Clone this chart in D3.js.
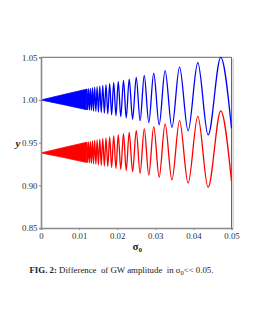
<!DOCTYPE html>
<html>
<head>
<meta charset="utf-8">
<script src="https://cdnjs.cloudflare.com/ajax/libs/d3/7.8.5/d3.min.js"></script>
<style>
  body { margin: 0; background: #fff; }
  svg { display: block; font-family: "Liberation Serif", "DejaVu Serif", serif; }
  .tick text { fill: #333; }
</style>
</head>
<body>
<div id="chart"></div>
<script>
// ticks
var xTicks = [0, 0.01, 0.02, 0.03, 0.04, 0.05];
var yTicks = [0.85, 0.90, 0.95, 1.00, 1.05];

// dense part near sigma = 0, drawn as a filled wedge (upper / lower envelope)
var envSigma = [0, 0.006, 0.012];
var blueUpper = [1.000, 1.0064, 1.0127];
var blueLower = [1.000, 0.9944, 0.9886];
var redUpper = [0.938, 0.9443, 0.9505];
var redLower = [0.938, 0.9325, 0.9268];

// resolved oscillation: alternating maxima / minima
var sigma = [0.01199, 0.01222, 0.01245, 0.01270, 0.01295, 0.01322, 0.01350, 0.01378,
  0.01408, 0.01440, 0.01473, 0.01507, 0.01543, 0.01581, 0.01621, 0.01663, 0.01706,
  0.01753, 0.01802, 0.01854, 0.01908, 0.01967, 0.02028, 0.02094, 0.02165, 0.02237,
  0.02315, 0.02404, 0.02500, 0.02601, 0.02710, 0.02829, 0.02959, 0.03101, 0.03257,
  0.03436, 0.03636, 0.03861, 0.04115, 0.04386, 0.04717, 0.05000];
var blueY = [1.0127, 0.9886, 1.0132, 0.9881, 1.0137, 0.9877, 1.0143, 0.9871,
  1.0149, 0.9866, 1.0156, 0.9859, 1.0163, 0.9852, 1.0172, 0.9845, 1.0181,
  0.9836, 1.0191, 0.9827, 1.0202, 0.9816, 1.0215, 0.9804, 1.0229, 0.9791,
  1.0245, 0.9775, 1.0265, 0.9757, 1.0287, 0.9736, 1.0313, 0.9710, 1.0345,
  0.9679, 1.0385, 0.9639, 1.0436, 0.9590, 1.0500, 0.9668];
var redY = [0.9505, 0.9268, 0.9509, 0.9263, 0.9515, 0.9258, 0.9520, 0.9253,
  0.9526, 0.9248, 0.9533, 0.9241, 0.9540, 0.9235, 0.9549, 0.9227, 0.9557,
  0.9219, 0.9567, 0.9209, 0.9578, 0.9199, 0.9591, 0.9187, 0.9605, 0.9174,
  0.9621, 0.9159, 0.9640, 0.9141, 0.9662, 0.9120, 0.9688, 0.9095, 0.9719,
  0.9064, 0.9758, 0.9025, 0.9808, 0.8976, 0.9871, 0.9050];

var width = 257, height = 332;
var plotLeft = 41, plotRight = 231.5, plotTop = 57.3, plotBottom = 228;

var svg = d3.select('#chart').append('svg')
  .attr('width', width)
  .attr('height', height);

var x = d3.scaleLinear().domain([0, 0.05]).range([plotLeft, plotRight]);
var y = d3.scaleLinear().domain([0.85, 1.05]).range([plotBottom, plotTop]);

// frame: top and right edges, right one with a soft shadow
svg.append('line')
  .attr('x1', plotRight + 1.6).attr('x2', plotRight + 1.6)
  .attr('y1', plotTop + 1).attr('y2', plotBottom + 1)
  .attr('stroke', '#d4d4d4').attr('stroke-width', 1.6);
svg.append('line')
  .attr('x1', plotLeft).attr('x2', plotRight)
  .attr('y1', plotTop).attr('y2', plotTop)
  .attr('stroke', '#666').attr('stroke-width', 1);
svg.append('line')
  .attr('x1', plotRight).attr('x2', plotRight)
  .attr('y1', plotTop).attr('y2', plotBottom)
  .attr('stroke', '#666').attr('stroke-width', 1);

// wedges
function wedge(upper, lower, color) {
  var pts = envSigma.map(function(s, i) { return {s: s, hi: upper[i], lo: lower[i]}; });
  svg.append('path')
    .datum(pts)
    .attr('fill', color)
    .attr('stroke', color)
    .attr('stroke-width', 0.8)
    .attr('d', d3.area()
      .x(function(d) { return x(d.s); })
      .y0(function(d) { return y(d.lo); })
      .y1(function(d) { return y(d.hi); }));
}
wedge(blueUpper, blueLower, '#0000ff');
wedge(redUpper, redLower, '#ff0000');

var line = d3.line()
  .x(function(d) { return x(d[0]); })
  .y(function(d) { return y(d[1]); })
  .curve(d3.curveMonotoneX);

svg.append('path')
  .datum(sigma.map(function(s, i) { return [s, blueY[i]]; }))
  .attr('fill', 'none')
  .attr('stroke', '#0000ff')
  .attr('stroke-width', 1.3)
  .attr('d', line);

svg.append('path')
  .datum(sigma.map(function(s, i) { return [s, redY[i]]; }))
  .attr('fill', 'none')
  .attr('stroke', '#ff0000')
  .attr('stroke-width', 1.3)
  .attr('d', line);

// axes
var yAxis = svg.append('g')
  .attr('transform', 'translate(' + plotLeft + ',0)')
  .call(d3.axisLeft(y).tickValues(yTicks).tickFormat(d3.format('.2f')).tickSize(2).tickPadding(1.5));
var xAxis = svg.append('g')
  .attr('transform', 'translate(0,' + plotBottom + ')')
  .call(d3.axisBottom(x).tickValues(xTicks)
    .tickFormat(function(d) { return d === 0 ? '0' : d3.format('.2f')(d); })
    .tickSize(2).tickPadding(3));

[yAxis, xAxis].forEach(function(g) {
  g.attr('font-family', '"Liberation Serif", serif').attr('font-size', 8.8);
  g.select('.domain').attr('stroke', '#8a8a8a').attr('stroke-width', 1.6);
  g.selectAll('.tick line').attr('stroke', '#8a8a8a');
});

// axis titles
svg.append('text')
  .attr('x', 18).attr('y', 147)
  .attr('text-anchor', 'middle')
  .style('font-size', '11px')
  .style('font-weight', 'bold')
  .style('font-style', 'italic')
  .attr('fill', '#222')
  .text('y');

var xt = svg.append('text')
  .attr('x', 132.5).attr('y', 249.5)
  .style('font-weight', 'bold')
  .attr('fill', '#222');
xt.append('tspan').style('font-size', '11px').text('σ');
xt.append('tspan').style('font-size', '7px').attr('dy', 2.5).text('0');

// caption
var cap = svg.append('text')
  .attr('x', 29.5).attr('y', 273)
  .style('font-size', '8.8px')
  .attr('fill', '#222');
cap.append('tspan').style('font-weight', 'bold').text('FIG. 2:');
cap.append('tspan').text(' Difference\u00a0 of GW amplitude\u00a0 in σ');
cap.append('tspan').style('font-size', '6.5px').attr('dy', 2).text('0');
cap.append('tspan').attr('dy', -2).text('<< 0.05.');
</script>
</body>
</html>
